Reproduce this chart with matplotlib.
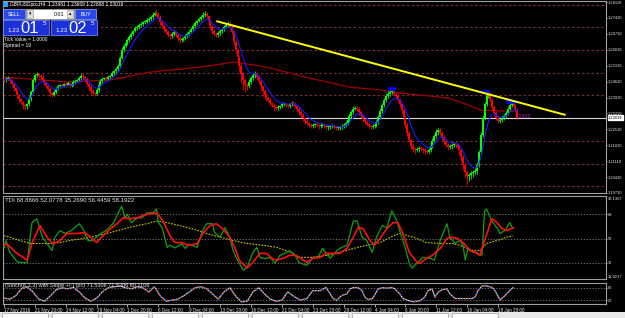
import numpy as np
import pandas as pd
import matplotlib
matplotlib.use("Agg")
import matplotlib.pyplot as plt
from matplotlib.patches import Rectangle

# ---------------- data ----------------
# H4 closes in pips (price * 1e4)
closes_pips = [
12468,12473,12477,12464,12451,12433,12420,12402,12384,12371,
12358,12354,12362,12384,12415,12468,12490,12494,12486,12481,
12468,12455,12442,12429,12411,12402,12415,12429,12442,12446,
12442,12451,12446,12455,12442,12451,12459,12464,12468,12477,
12486,12481,12473,12451,12437,12420,12411,12407,12424,12446,
12464,12473,12477,12473,12481,12486,12499,12508,12516,12530,
12565,12600,12618,12631,12644,12657,12670,12683,12697,12701,
12710,12714,12723,12723,12732,12736,12745,12754,12763,12758,
12745,12723,12705,12692,12679,12666,12661,12670,12679,12666,
12653,12644,12648,12653,12661,12670,12679,12692,12705,12719,
12727,12736,12745,12754,12758,12749,12727,12705,12683,12670,
12666,12675,12683,12692,12701,12710,12714,12701,12679,12635,
12600,12569,12530,12494,12468,12446,12442,12459,12477,12490,
12494,12481,12464,12442,12420,12402,12389,12380,12367,12358,
12349,12345,12349,12354,12362,12362,12358,12354,12362,12367,
12362,12354,12341,12327,12314,12301,12288,12279,12270,12266,
12270,12275,12270,12266,12270,12270,12266,12261,12261,12266,
12266,12261,12257,12257,12261,12266,12270,12279,12292,12310,
12327,12341,12345,12341,12327,12314,12297,12283,12275,12266,
12261,12266,12270,12283,12305,12332,12358,12380,12398,12407,
12415,12415,12407,12398,12380,12362,12336,12305,12270,12235,
12204,12178,12165,12160,12165,12169,12165,12160,12156,12151,
12160,12178,12200,12222,12239,12248,12235,12217,12200,12182,
12173,12178,12182,12186,12182,12173,12160,12130,12094,12063,
12046,12050,12059,12063,12068,12094,12151,12226,12301,12362,
12398,12407,12380,12349,12323,12301,12288,12292,12301,12310,
12323,12341,12358,12367,12354,12336,12302]
first_open_pips = 12470
# upper / lower wick lengths in pips
hi_wick = [
8,6,10,5,7,9,6,8,5,7, 6,9,7,12,8,10,6,7,5,8, 7,6,9,5,8,6,10,7,9,6,
8,5,7,9,6,8,7,10,6,8, 12,7,6,8,5,9,7,6,8,10, 7,9,6,8,7,5,9,6,8,7,
10,12,8,9,7,10,8,6,9,11, 7,8,6,9,10,7,8,12,9,15, 10,8,7,9,6,8,10,7,9,6,
8,7,9,6,10,8,7,9,8,10, 7,9,8,11,12,9,7,8,6,9, 8,7,9,6,8,10,12,14,9,8,
7,9,6,8,10,7,9,12,8,10, 14,9,7,8,6,9,7,8,10,6, 8,7,9,6,8,10,7,9,6,8,
7,9,6,8,7,9,6,8,10,7, 9,6,8,7,10,6,8,9,7,6, 8,10,7,9,6,8,7,9,10,12,
9,14,10,8,7,9,6,8,7,9, 6,8,10,7,9,12,10,8,11,14, 16,12,9,7,8,10,7,9,6,8,
7,9,12,8,7,10,8,9,7,6, 8,10,12,9,14,10,8,7,9,6, 8,10,12,9,8,7,9,6,8,7,
9,8,10,7,12,14,10,12,11,9, 16,12,9,8,7,10,9,8,11,9, 10,12,14,9,8,10,7]
lo_wick = [
7,9,6,10,8,12,9,14,11,10, 16,20,12,9,7,6,8,10,7,9, 8,7,10,9,12,8,6,9,7,8,
10,7,9,6,8,7,10,9,6,8, 7,9,8,10,12,14,10,8,7,9, 6,8,7,9,6,8,7,9,10,7,
9,6,8,7,10,8,9,7,6,8, 9,7,8,10,6,8,7,9,6,8, 10,12,9,14,10,8,12,9,7,10,
12,14,9,8,10,7,9,6,8,7, 9,6,8,7,9,8,10,12,14,9, 8,10,7,9,8,6,8,7,10,12,
14,18,24,40,45,30,16,10,9,8, 12,10,14,18,20,16,12,10,14,9, 12,10,8,9,11,8,10,7,9,8,
10,8,9,12,10,14,12,9,10,8, 9,10,8,12,9,8,10,9,11,8, 9,7,8,10,9,8,7,9,8,10,
8,9,7,10,12,9,14,10,9,8, 10,9,8,7,9,8,7,10,8,9, 8,10,9,12,10,14,12,16,14,12,
10,14,12,16,10,12,9,14,12,10, 9,8,10,9,8,12,10,14,12,10, 14,10,12,9,11,14,16,18,20,24,
40,22,18,16,14,12,10,9,8,10, 8,10,9,12,10,9,8,10,9,8, 10,9,8,10,12,9,8]

# slow moving average (dark red), read at sample bars
slow_ma_bar = [0, 33, 55, 76, 102, 119, 136, 158, 179, 195, 205, 230, 240, 247, 264]
slow_ma_val = [1.2481, 1.2459, 1.2468, 1.2503, 1.2525, 1.2547, 1.2525, 1.2477,
               1.2437, 1.2424, 1.2411, 1.2389, 1.2360, 1.2335, 1.2330]

# trend line (yellow)
trend_bar = [110, 291]
trend_val = [1.2727, 1.2314]

# blue highs markers
mark_bar0 = [199, 247, 260]
mark_bar1 = [203, 252, 266]
mark_val = [1.2428, 1.2413, 1.2373]

# price axis labels
price_ticks = [1.28110, 1.27410, 1.26710, 1.26010, 1.25310, 1.24610, 1.23910,
               1.23210, 1.22510, 1.21810, 1.21110, 1.20410, 1.19710]
grid_levels = [1.28, 1.27, 1.26, 1.25, 1.24, 1.23, 1.22, 1.21, 1.20]
bid_price = 1.23019

# TDI
tdi_green_bar = [0,1,3,7,12,14.5,17,20,23,25,26.4,29,31.6,35,39,41,43.5,46,50,53,56.5,58.5,61,62.7,64,66,69,71.5,74,77,79,80,82,84.5,86,88.6,92,94,96,100,103,105,108,109,112,114.5,117,118.7,121,124,126,129,131,132.6,135,137.8,140.4,143,145.6,148,150.8,153,157,160,162.7,165,169,172.5,175,177.7,181,183,185.5,188,190.7,193,196,198.4,201,203.6,205,207.8,210,211.4,214,217,220.7,223,226,229.5,231,233.7,236,237.8,239,240.4,243,245,246.6,247.7,249,250,252.8,255.4,257,259.6,262,263.7]
tdi_green_val = [42.6,48.5,39.7,32.4,32,61.8,64.7,50.7,44.8,41,51,55.9,53.7,56,61,57,48.5,48.5,53.7,56,61,67,74,65.4,68,61.7,65.4,65.4,69,69,72,61.8,58,43.4,45,43,46,42.6,46,43.4,56,61,61,54.7,51,58,51,41,33.8,26.5,28.7,39.7,43.4,36,35,36,31.6,37.5,39,41,37.5,32,30,36,36,42.6,35.3,41,43.4,45,63,63,51,48.5,39.7,51,59.6,58,70.6,63,55.9,43.4,31.6,28,31.6,36,35.3,34,48.5,61,51,46.3,48.5,45,34,42.6,39.7,39.7,37.5,38,70.6,72,63,58,53.7,56,61.8,57.4]
tdi_red_bar = [0,1.6,6.7,12,15,18.7,22.3,25.4,29,32.6,37.8,42,45.6,48,51.3,55,58.5,61.7,65.3,69,72,75.6,79.3,82.4,86,88.6,92,95.3,100,103,106.7,110,113.5,117,119.7,122,126,129,132.6,136,139,141.5,144.6,148,150.8,153.4,157,160,163.7,167,170.5,174,177.7,181,183.4,186,189.6,192,194.8,198.4,201.6,204,206.7,210,214,215.5,219,222,226,229.5,232,235,237.8,241.5,244,246.6,249,252.8,255.4,258,260.6,263.7]
tdi_red_val = [45,46,39,34,48.5,59.6,51,46,48.5,53.7,53.7,54.4,50,47,52,57,61,65.4,64.7,65.4,67,68.4,69,63,52,47,47,45,46,53.7,59.6,61,57,51,42.6,33.8,28,32.4,39,39,35,34,35.3,37.5,37.5,35.3,32.4,35.3,36,39,39,39,42.6,51,58,57.4,48.5,45,50,57.4,61.8,61.8,53.7,39.7,32.4,31.6,35.3,37.5,42.6,50,51,50,47,41,39.7,37.5,48.5,64.7,61.8,57.4,56,58]
tdi_base_bar = [0,3,8.3,13.5,18.7,23.8,29,34,41,48,55,61.7,69,74,79.3,84.5,91,98,105,112,118.7,126,134,141.5,148,153.4,160,167.4,174,181,188,194.8,201.6,205,212,219,226,232.6,236,243,246.6,250,255.4,260.6,263.7]
tdi_base_val = [52,51,48.5,46.3,46.3,46.3,47,48.5,50,52,54.4,57,59.6,61,63,61.8,59.6,57,53.7,51,48.5,46.3,45,43.4,40,36,36,37.5,39.7,42.6,45,47,52,53.7,51,47,46.3,46.3,45,41,41,46.3,48.5,51,52]

# Stochastic
sto_bar = [0,3,6,9,12,15,18,21,24,27,30,33,36,39,42,45,48,51,54,57,60,63,66,69,72,75,78,81,84,87,90,93,96,99,102,105,108,111,114,117,120,123,126,129,132,135,138,141,144,147,150,153.4,157,160,163.7,166.8,169,170.5,172.5,175,177.7,179.3,181,183.4,185.5,187,188.6,191,193.8,196,198.4,201,202.6,205,206.7,208.8,212,215.5,218,219.7,221.8,223.3,224.9,227,229.5,231,233.7,236,240,242.5,244,245.6,247.7,250,253,254.4,257,259.6,262,263.7]
sto_val = [30,25,40,75,85,60,25,15,40,70,80,75,82,60,30,15,30,60,80,85,88,80,75,85,80,60,85,40,15,20,25,40,60,80,85,75,50,25,60,80,40,12,15,60,80,50,25,15,20,60,40,20,28,66,66,81,51,28,20,43,51,74,81,81,66,35,23,28,74,81,78,81,74,51,28,20,12,17,35,66,74,35,58,71,74,51,28,28,28,28,35,66,89,89,81,66,20,43,66,81]

date_labels = ["17 Nov 2016", "21 Nov 20:00", "24 Nov 12:00", "29 Nov 04:00",
               "1 Dec 20:00", "6 Dec 12:00", "9 Dec 04:00", "13 Dec 20:00",
               "16 Dec 12:00", "21 Dec 04:00", "23 Dec 20:00", "29 Dec 12:00",
               "4 Jan 04:00", "6 Jan 20:00", "11 Jan 12:00", "16 Jan 04:00",
               "18 Jan 20:00"]
date_bars = list(range(0, 257, 16))

title_text = "GBPUSDpro,H4  1.23481 1.23669 1.22898 1.23019"
tdi_text = "TDI 68.8866 52.0778 35.2690 56.4459 58.1922"
sto_text = "(Stoch(8,3,3) with Slope +/-) (pc) 71.5306 71.5306 80.1106"

# ---------------- figure ----------------
W, H = 625, 318
fig = plt.figure(figsize=(W / 100, H / 100), dpi=100, facecolor="black")
FONT = "Liberation Sans"
FS = 3.3
AFS = 2.9   # right-scale labels
LBL = "#e8e8e8"


def fx(px):
    return px / W


def fy(py):
    return 1 - py / H


def axes_px(x0, y0, x1, y1):
    a = fig.add_axes([fx(x0), fy(y1), (x1 - x0) / W, (y1 - y0) / H])
    a.set_facecolor("black")
    for s in a.spines.values():
        s.set_color("#a0a0a0")
        s.set_linewidth(0.8)
    a.set_xlim(-0.5, 312.4)
    a.tick_params(axis="x", bottom=False, labelbottom=False)
    a.yaxis.tick_right()
    a.tick_params(axis="y", colors=LBL, labelsize=AFS, length=1.0, width=0.5, pad=0.3)
    return a


ax = axes_px(3, 1, 606, 193)
tdi = axes_px(3, 196, 606, 279)
sto = axes_px(3, 283, 606, 304)
for a in (ax, tdi, sto):
    a.set_xlim(-0.5, 311.9)

# ----- main price panel -----
closes = np.array(closes_pips) / 1e4
opens = np.concatenate([[first_open_pips / 1e4], closes[:-1]])
highs = np.maximum(opens, closes) + np.array(hi_wick) / 1e4
lows = np.minimum(opens, closes) - np.array(lo_wick) / 1e4
idx = np.arange(len(closes))
bull = closes >= opens
cols = np.where(bull, "#00ff00", "#ff0000")

ax.set_ylim(1.19712, 1.28154)
for lv in grid_levels:
    ax.axhline(lv, color="#8a3030", lw=0.7, ls=(0, (2.5, 2.5)), zorder=1)

ax.vlines(idx, lows, highs, colors=cols, lw=0.6, zorder=3)
btm = np.minimum(opens, closes)
top = np.maximum(np.maximum(opens, closes), btm + 0.00035)
ax.vlines(idx, btm, top, colors=cols, lw=1.45, zorder=3)

fast_ma = pd.Series(closes).ewm(span=8, adjust=False).mean()
ax.plot(idx, fast_ma, color="#1a1aff", lw=0.8, zorder=4)
ax.plot(slow_ma_bar, slow_ma_val, color="#a00000", lw=0.9, zorder=2)
ax.plot(trend_bar, trend_val, color="#ffff00", lw=1.4, zorder=5, solid_capstyle="butt")
ax.hlines(mark_val, mark_bar0, mark_bar1, colors="#0000ff", lw=2.6, zorder=4)
ax.axhline(bid_price, color="#d8d8d8", lw=0.8, zorder=2)

ax.set_yticks(price_ticks)
ax.set_yticklabels([f"{v:.5f}" for v in price_ticks], fontfamily=FONT)
ax.text(1.0035, bid_price, f"{bid_price:.5f}", transform=ax.get_yaxis_transform(),
        fontsize=AFS, color="black", va="center", ha="left", fontfamily=FONT,
        bbox=dict(boxstyle="square,pad=0.12", fc="white", ec="white"), zorder=10,
        clip_on=False)
ax.text(264.5, bid_price + 0.0004, "1.2302", color="#c020c0", fontsize=FS + 0.6,
        fontfamily=FONT, va="center", ha="left", zorder=6)

# ----- TDI panel -----
tdi.set_ylim(19.9, 81.6)
for lv in [68, 50, 32]:
    tdi.axhline(lv, color="#808080", lw=0.6, ls=(0, (1.5, 2)), zorder=1)
tdi.plot(tdi_base_bar, tdi_base_val, color="#c8c800", lw=0.8, ls=(0, (1.5, 1.2)), zorder=2)
tdi.plot(tdi_green_bar, tdi_green_val, color="#10a010", lw=0.9, zorder=3)
tdi.plot(tdi_red_bar, tdi_red_val, color="#ff1010", lw=1.2, zorder=4)
tdi.set_yticks([68, 50, 32])
tdi.set_yticklabels(["68", "50", "32"], fontfamily=FONT)
tdi.text(2 / 603, 0.975, tdi_text, transform=tdi.transAxes, color=LBL, fontsize=4.4,
         fontfamily=FONT, va="top", ha="left")

# ----- Stochastic panel -----
sto.set_ylim(1.5, 103)
for lv in [80, 20]:
    sto.axhline(lv, color="#808080", lw=0.6, ls=(0, (1.5, 2)), zorder=1)
sto.plot(sto_bar, sto_val, color="#c8f0c8", lw=0.8, zorder=2)
sto.plot(sto_bar, sto_val, color="#ff2020", lw=1.0, ls=(0, (1, 3)), zorder=3)
sto.plot(sto_bar, sto_val, color="#2040ff", lw=1.0, ls=(2, (1, 3)), zorder=3)
sto.set_yticks([80, 20])
sto.set_yticklabels(["80", "20"], fontfamily=FONT)
sto.text(2 / 603, 1.02, sto_text, transform=sto.transAxes, color=LBL, fontsize=4.0,
         fontfamily=FONT, va="top", ha="left", zorder=5)

sto.set_xticks(date_bars)
sto.set_xticklabels(date_labels, fontfamily=FONT)
sto.tick_params(axis="x", bottom=True, labelbottom=True, colors=LBL, labelsize=FS,
                length=2, width=0.5, pad=1.2)
for t in sto.get_xticklabels():
    t.set_ha("left")

# extra right-scale texts
fig.text(fx(608), fy(199.5), "93.1367", color=LBL, fontsize=AFS, fontfamily=FONT, va="center")
fig.text(fx(608), fy(277), "18.0217", color=LBL, fontsize=AFS, fontfamily=FONT, va="center")

# ----- header & one-click panel -----
def rect_px(x0, y0, x1, y1, fc, ec="none", lw=0.5, z=20):
    fig.add_artist(Rectangle((fx(x0), fy(y1)), (x1 - x0) / W, (y1 - y0) / H,
                             transform=fig.transFigure, fc=fc, ec=ec, lw=lw, zorder=z))


def text_px(x, y, s, **kw):
    kw.setdefault("fontfamily", FONT)
    kw.setdefault("zorder", 21)
    fig.text(fx(x), fy(y), s, **kw)


rect_px(3, 2, 8, 7, "#30a0ff", z=20)
text_px(10, 4.5, title_text, color="white", fontsize=3.5, va="center")

rect_px(3, 9, 25, 19, "#2a48e8", ec="#a0b0ff")
text_px(14, 14, "SELL", color="white", fontsize=3.8, ha="center", va="center")
rect_px(26, 9, 74, 19, "white", ec="#a0a0a0")
rect_px(27, 10, 33, 18, "#e0e0e0", ec="#a0a0a0")
rect_px(67, 10, 73, 18, "#e0e0e0", ec="#a0a0a0")
text_px(30, 14, "\u25be", color="black", fontsize=3.5, ha="center", va="center",
        fontfamily="DejaVu Sans")
text_px(70, 14, "\u25b4", color="black", fontsize=3.5, ha="center", va="center",
        fontfamily="DejaVu Sans")
text_px(64, 14, "0.01", color="black", fontsize=3.8, ha="right", va="center")
rect_px(75, 9, 96, 19, "#2a48e8", ec="#a0b0ff")
text_px(85.5, 14, "BUY", color="white", fontsize=3.8, ha="center", va="center")

for x0, big in [(3, "01"), (51, "02")]:
    rect_px(x0, 20, x0 + 46, 35, "#1a30d8", ec="#8090ff")
    text_px(x0 + 4, 31, "1.23", color="white", fontsize=4.5, ha="left", va="center")
    text_px(x0 + 17, 28.5, big, color="white", fontsize=12, ha="left", va="center")
    text_px(x0 + 40, 23.5, "5", color="white", fontsize=4.5, ha="left", va="center")

text_px(4, 39.5, "Tick Value = 1.0000", color="white", fontsize=3.5, va="center")
text_px(4, 45.5, "Spread = 19", color="white", fontsize=3.5, va="center")

# bottom tab strip
rect_px(0, 312, 625, 318, "#e8e8e8", z=5)
for x0, x1 in [(2, 48), (52, 98), (102, 148), (152, 198), (202, 248), (252, 298),
               (302, 348), (352, 398), (402, 448), (452, 498)]:
    rect_px(x0, 313, x1, 318, "white", ec="#909090", lw=0.4, z=6)

fig.savefig("out.png", dpi=100, facecolor="black")
